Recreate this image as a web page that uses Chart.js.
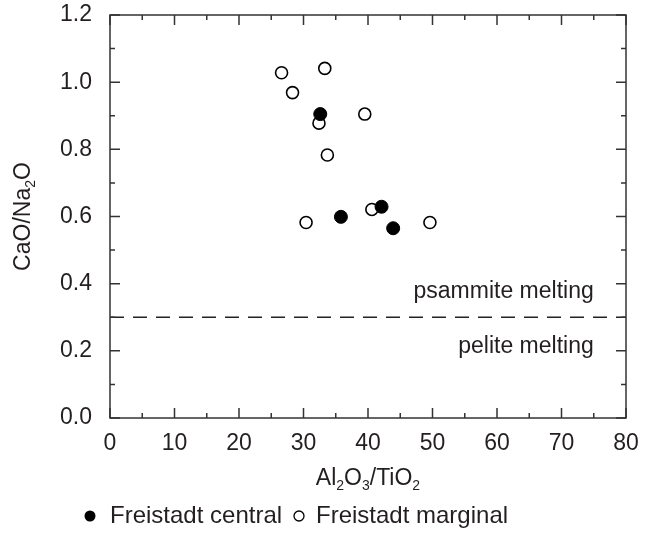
<!DOCTYPE html>
<html><head><meta charset="utf-8">
<script src="https://cdn.jsdelivr.net/npm/chart.js@4/dist/chart.umd.min.js"></script>
<style>html,body{margin:0;padding:0;background:#fff}#wrap{width:649px;height:536px}</style>
</head><body><div id="wrap"><canvas id="c" width="649" height="536"></canvas></div>
<script>
// ---- data ----
const centralX = [32.6, 35.8, 42.1, 43.9];
const centralY = [0.905, 0.599, 0.629, 0.565];
const marginalX = [26.6, 33.3, 28.3, 39.5, 32.4, 33.7, 30.4, 40.6, 49.6];
const marginalY = [1.028, 1.041, 0.969, 0.905, 0.878, 0.783, 0.582, 0.621, 0.582];
const seriesNames = ['Freistadt central', 'Freistadt marginal'];
const xTicks = [0, 10, 20, 30, 40, 50, 60, 70, 80];
const yTicks = [0.0, 0.2, 0.4, 0.6, 0.8, 1.0, 1.2];
const boundaryY = 0.3;
const zoneLabels = ['psammite melting', 'pelite melting'];
const zoneLabelY = [0.357, 0.193];
const xTitle = [['Al', ''], ['2', 'sub'], ['O', ''], ['3', 'sub'], ['/TiO', ''], ['2', 'sub']];
const yTitle = [['CaO/Na', ''], ['2', 'sub'], ['O', '']];

const FONT = '"Liberation Sans", Arial, sans-serif';
const INK = '#231f20';
const AXIS = '#333333';

function pts(xs, ys) { return xs.map((x, i) => ({ x: x, y: ys[i] })); }

function drawRich(ctx, parts, size, x, y, align) {
  const subSize = Math.round(size * 0.6);
  let w = 0;
  parts.forEach(p => { ctx.font = (p[1] === 'sub' ? subSize : size) + 'px ' + FONT; w += ctx.measureText(p[0]).width; });
  let cx = align === 'center' ? x - w / 2 : x;
  parts.forEach(p => {
    const sub = p[1] === 'sub';
    ctx.font = (sub ? subSize : size) + 'px ' + FONT;
    ctx.textAlign = 'left';
    ctx.textBaseline = 'alphabetic';
    ctx.fillText(p[0], cx, y + (sub ? size * 0.22 : 0));
    cx += ctx.measureText(p[0]).width;
  });
}

const framePlugin = {
  id: 'frame',
  afterDraw(chart) {
    const ctx = chart.ctx;
    const a = chart.chartArea;
    const xs = chart.scales.x, ys = chart.scales.y;
    ctx.save();
    ctx.strokeStyle = AXIS;
    ctx.lineWidth = 1.5;
    ctx.strokeRect(a.left, a.top, a.right - a.left, a.bottom - a.top);
    ctx.beginPath();
    const major = 10, minor = 5;
    for (let i = 0; i < xTicks.length; i++) {
      const px = xs.getPixelForValue(xTicks[i]);
      ctx.moveTo(px, a.bottom); ctx.lineTo(px, a.bottom - major);
      ctx.moveTo(px, a.top); ctx.lineTo(px, a.top + major);
      if (i < xTicks.length - 1) {
        const mx = xs.getPixelForValue((xTicks[i] + xTicks[i + 1]) / 2);
        ctx.moveTo(mx, a.bottom); ctx.lineTo(mx, a.bottom - minor);
        ctx.moveTo(mx, a.top); ctx.lineTo(mx, a.top + minor);
      }
    }
    for (let i = 0; i < yTicks.length; i++) {
      const py = ys.getPixelForValue(yTicks[i]);
      ctx.moveTo(a.left, py); ctx.lineTo(a.left + major, py);
      ctx.moveTo(a.right, py); ctx.lineTo(a.right - major, py);
      if (i < yTicks.length - 1) {
        const my = ys.getPixelForValue((yTicks[i] + yTicks[i + 1]) / 2);
        ctx.moveTo(a.left, my); ctx.lineTo(a.left + minor, my);
        ctx.moveTo(a.right, my); ctx.lineTo(a.right - minor, my);
      }
    }
    ctx.stroke();

    // zone labels
    ctx.fillStyle = INK;
    ctx.font = '23px ' + FONT;
    ctx.textAlign = 'right';
    ctx.textBaseline = 'alphabetic';
    const lx = xs.getPixelForValue(75);
    zoneLabels.forEach((t, i) => ctx.fillText(t, lx, ys.getPixelForValue(zoneLabelY[i])));

    // axis titles
    drawRich(ctx, xTitle, 23, (a.left + a.right) / 2, 485, 'center');
    ctx.save();
    ctx.translate(30, (a.top + a.bottom) / 2);
    ctx.rotate(-Math.PI / 2);
    drawRich(ctx, yTitle, 23, 0, 0, 'center');
    ctx.restore();

    // legend
    const ly = 516;
    const ds = chart.data.datasets;
    ctx.lineWidth = 1.3;
    ctx.beginPath(); ctx.arc(90, ly, 5.5, 0, Math.PI * 2);
    ctx.fillStyle = ds[0].backgroundColor; ctx.fill();
    ctx.beginPath(); ctx.arc(299, ly, 5, 0, Math.PI * 2);
    ctx.fillStyle = ds[1].backgroundColor; ctx.fill(); ctx.strokeStyle = '#000'; ctx.stroke();
    ctx.fillStyle = INK;
    ctx.font = '24px ' + FONT;
    ctx.textAlign = 'left';
    ctx.textBaseline = 'middle';
    ctx.fillText(ds[0].label, 110, ly);
    ctx.fillText(ds[1].label, 316, ly);
    ctx.restore();
  }
};

new Chart(document.getElementById('c'), {
  type: 'scatter',
  data: {
    datasets: [
      { label: seriesNames[0], data: pts(centralX, centralY), backgroundColor: '#000000', borderColor: '#000000', pointRadius: 6.5, pointBorderWidth: 1, pointHoverRadius: 6.5 },
      { label: seriesNames[1], data: pts(marginalX, marginalY), backgroundColor: '#ffffff', borderColor: '#000000', pointRadius: 6, pointBorderWidth: 1.6, pointHoverRadius: 6 },
      { label: 'boundary', type: 'line', data: [{ x: xTicks[0], y: boundaryY }, { x: xTicks[xTicks.length - 1], y: boundaryY }], borderColor: '#222', borderWidth: 1.5, borderDash: [14, 9], pointRadius: 0, fill: false }
    ]
  },
  options: {
    responsive: false,
    devicePixelRatio: 1,
    animation: false,
    layout: { padding: { top: 15, right: 23, left: 0, bottom: 0 } },
    plugins: { legend: { display: false }, tooltip: { enabled: false } },
    scales: {
      x: {
        type: 'linear', min: 0, max: 80,
        grid: { display: false, drawTicks: false },
        border: { display: false },
        ticks: { stepSize: 10, padding: 12, color: INK, font: { size: 23, family: FONT } },
        afterFit(s) { s.height = 118; s.paddingLeft = 0; s.paddingRight = 0; }
      },
      y: {
        type: 'linear', min: 0, max: 1.2,
        grid: { display: false, drawTicks: false },
        border: { display: false },
        ticks: { stepSize: 0.2, padding: 18, color: INK, font: { size: 23, family: FONT }, callback: v => v.toFixed(1) },
        afterFit(s) { s.width = 110; s.paddingTop = 0; s.paddingBottom = 0; }
      }
    }
  },
  plugins: [framePlugin]
});
</script>
</body></html>
